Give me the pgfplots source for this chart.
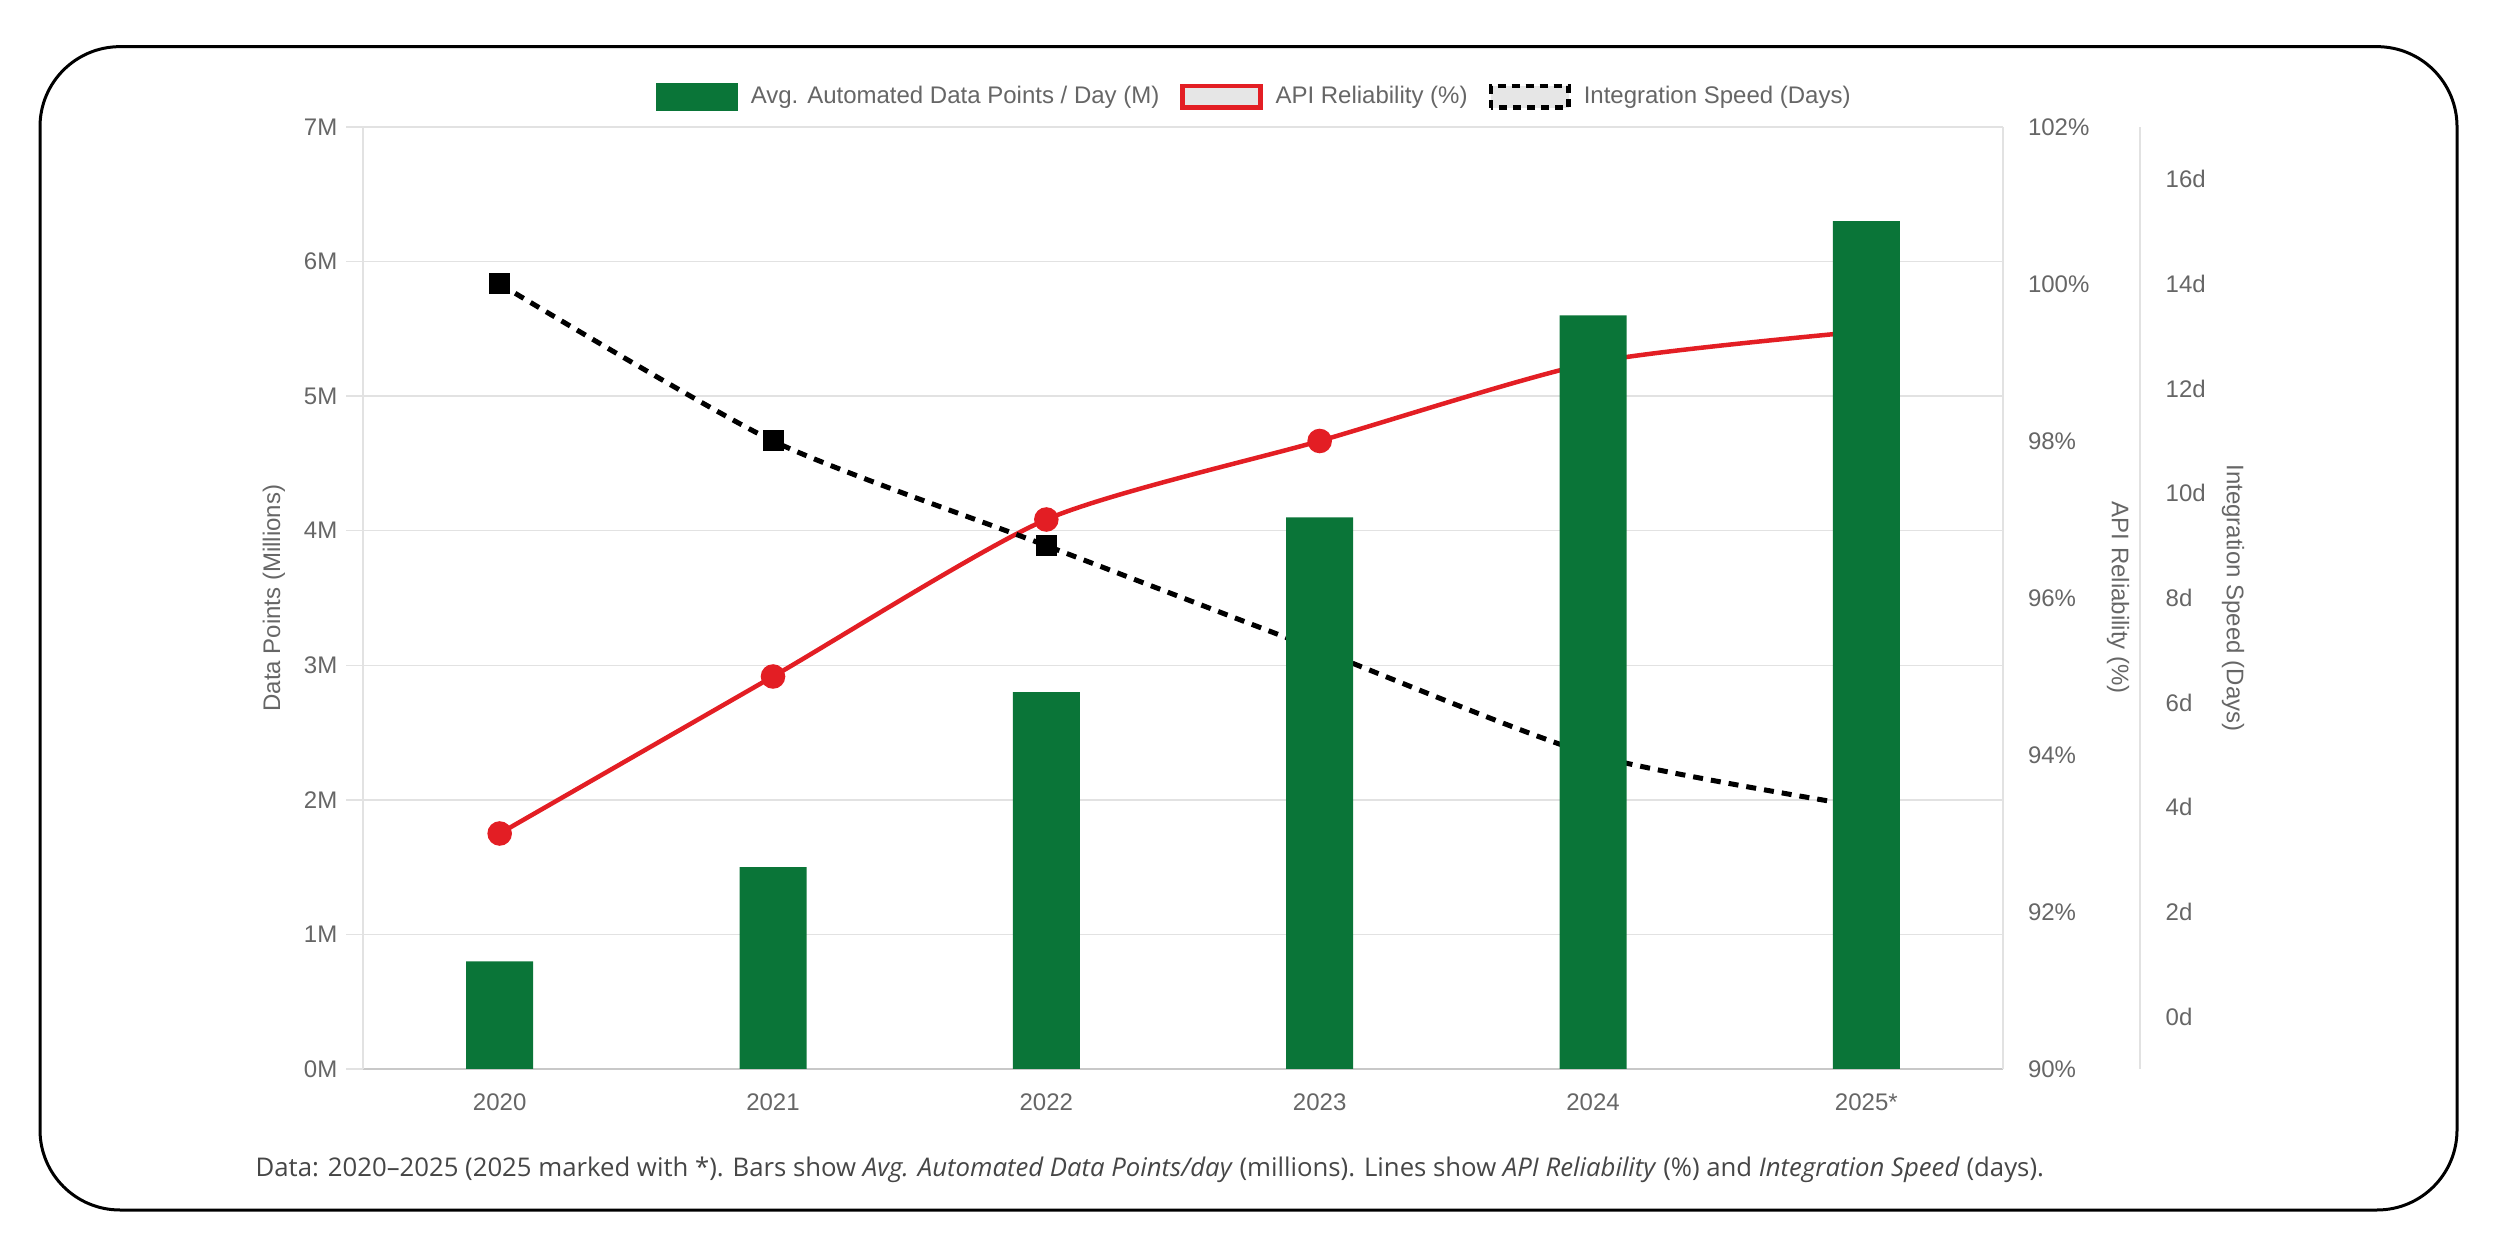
\documentclass[border=0pt]{standalone}
\usepackage{pgfplots}
\pgfplotsset{compat=1.18}
\usepackage{fontspec}
\setmainfont{Liberation Sans}
\newfontfamily\notefont{Open Sans}

\definecolor{barG}{RGB}{10,117,56}
\definecolor{relR}{RGB}{227,30,36}
\definecolor{tickC}{RGB}{102,102,102}
\definecolor{gridC}{RGB}{226,226,226}
\definecolor{baseC}{RGB}{200,200,200}
\definecolor{noteC}{RGB}{70,70,70}
\definecolor{boxC}{RGB}{230,230,230}

\tikzset{ylab/.style={text=tickC, font=\fontsize{7.2}{8.6}\selectfont}}

% shared frame for the stacked axes (1 px of the reference = 0.3pt)
\pgfplotsset{
  base/.style={
    at={(108.9pt,51.3pt)}, anchor=south west,
    width=492pt, height=282.6pt, scale only axis,
    xmin=-0.5, xmax=5.5,
    font=\fontsize{7.2}{8.6}\selectfont,
    tick label style={text=tickC},
    /pgf/number format/assume math mode=true,
    clip=false,
  },
}

\begin{document}
\begin{tikzpicture}
\useasboundingbox (0,0) rectangle (749.1pt,372pt);

% left axis: grid, ticks, legend
\begin{axis}[base,
  ymin=0, ymax=7, ytick={0,...,7},
  yticklabels={0M,1M,2M,3M,4M,5M,6M,7M},
  xtick={0,...,5}, xticklabels={2020,2021,2022,2023,2024,2025*},
  axis x line*=bottom, axis y line*=left,
  x axis line style={draw=baseC, line width=0.7pt, -},
  y axis line style={draw=gridC, line width=0.45pt, -},
  ymajorgrids, grid style={draw=gridC, line width=0.45pt},
  tick align=outside, major tick length=5.1pt,
  ytick style={draw=gridC, line width=0.45pt},
  xtick style={draw=none},
  yticklabel style={inner sep=0pt, anchor=east, xshift=-2.4pt},
  xticklabel style={inner sep=0pt, anchor=north, yshift=-2.1pt},
  every axis y label/.style={ylab, at={(axis description cs:0,0.5)}, xshift=-26.7pt, rotate=90, anchor=center},
  ylabel={Data Points (Millions)},
  legend style={at={(axis description cs:0.543,1.032)}, anchor=center,
    draw=none, fill=none, legend columns=3, text=tickC,
    font=\fontsize{7.2}{8.6}\selectfont,
    nodes={inner sep=0pt},
    /tikz/every odd column/.append style={column sep=3.9pt},
    /tikz/every even column/.append style={column sep=6.3pt}},
]
\addlegendimage{legend image code/.code={\fill[barG] (0pt,-3.9pt) rectangle (24pt,3.9pt);}}
\addlegendentry{Avg. Automated Data Points / Day (M)}
\addlegendimage{legend image code/.code={\draw[relR, line width=1.35pt, fill=boxC] (0.7pt,-3.2pt) rectangle (24pt,3.2pt);}}
\addlegendentry{API Reliability (\%)}
\addlegendimage{legend image code/.code={\draw[black, line width=1.35pt, fill=boxC, dash pattern=on 2.4pt off 1.8pt] (0.7pt,-3.2pt) rectangle (24pt,3.2pt);}}
\addlegendentry{Integration Speed (Days)}
\end{axis}

% reliability axis
\begin{axis}[base,
  ymin=90, ymax=102, ytick={90,92,...,102},
  yticklabels={90\%,92\%,94\%,96\%,98\%,100\%,102\%},
  axis y line*=right, axis x line=none,
  y axis line style={draw=gridC, line width=0.45pt, -},
  ytick style={draw=none},
  yticklabel style={inner sep=0pt, anchor=west, xshift=7.3pt},
  every axis y label/.style={ylab, at={(axis description cs:1,0.5)}, xshift=34.5pt, rotate=-90, anchor=center},
  ylabel={API Reliability (\%)},
]
\addplot[relR, line width=1.35pt, smooth, tension=0.4,
  mark=*, mark size=3pt, mark options={fill=relR, draw=relR}]
  coordinates {(0,93.0) (1,95.0) (2,97.0) (3,98.0) (4,99.0) (5,99.4)};
\end{axis}

% integration speed axis
\begin{axis}[base,
  ymin=-1, ymax=17, ytick={0,2,...,16},
  yticklabels={0d,2d,4d,6d,8d,10d,12d,14d,16d},
  axis y line*=right, axis x line=none,
  y axis line style={draw=none},
  ytick style={draw=none},
  yticklabel style={inner sep=0pt, anchor=west, xshift=48.6pt},
  every axis y label/.style={ylab, at={(axis description cs:1,0.5)}, xshift=69pt, rotate=-90, anchor=center},
  ylabel={Integration Speed (Days)},
]
\draw[gridC, line width=0.45pt] ([xshift=41.1pt]rel axis cs:1,0) -- ([xshift=41.1pt]rel axis cs:1,1);
\addplot[black, line width=1.5pt, dash pattern=on 3pt off 2.4pt, smooth, tension=0.4,
  mark=square*, mark size=2.4pt, mark options={solid, fill=black}]
  coordinates {(0,14) (1,11) (2,9) (3,7) (4,5) (5,4)};
\end{axis}

% bars on top
\begin{axis}[base, hide axis, ymin=0, ymax=7]
\addplot[ybar, bar width=20.1pt, fill=barG, draw=none]
  coordinates {(0,0.8) (1,1.5) (2,2.8) (3,4.1) (4,5.6) (5,6.3)};
\end{axis}

% outer frame and note
\draw[line width=0.9pt, rounded corners=24pt] (12pt,9pt) rectangle (737.1pt,358pt);
\node[anchor=west, inner sep=0pt, text=noteC, font=\notefont\fontsize{7.72}{9}\selectfont] at (76.5pt,21pt)
  {Data: 2020–2025 (2025 marked with *). Bars show \textit{Avg. Automated Data Points/day} (millions). Lines show \textit{API Reliability} (\%) and \textit{Integration Speed} (days).};
\end{tikzpicture}
\end{document}
